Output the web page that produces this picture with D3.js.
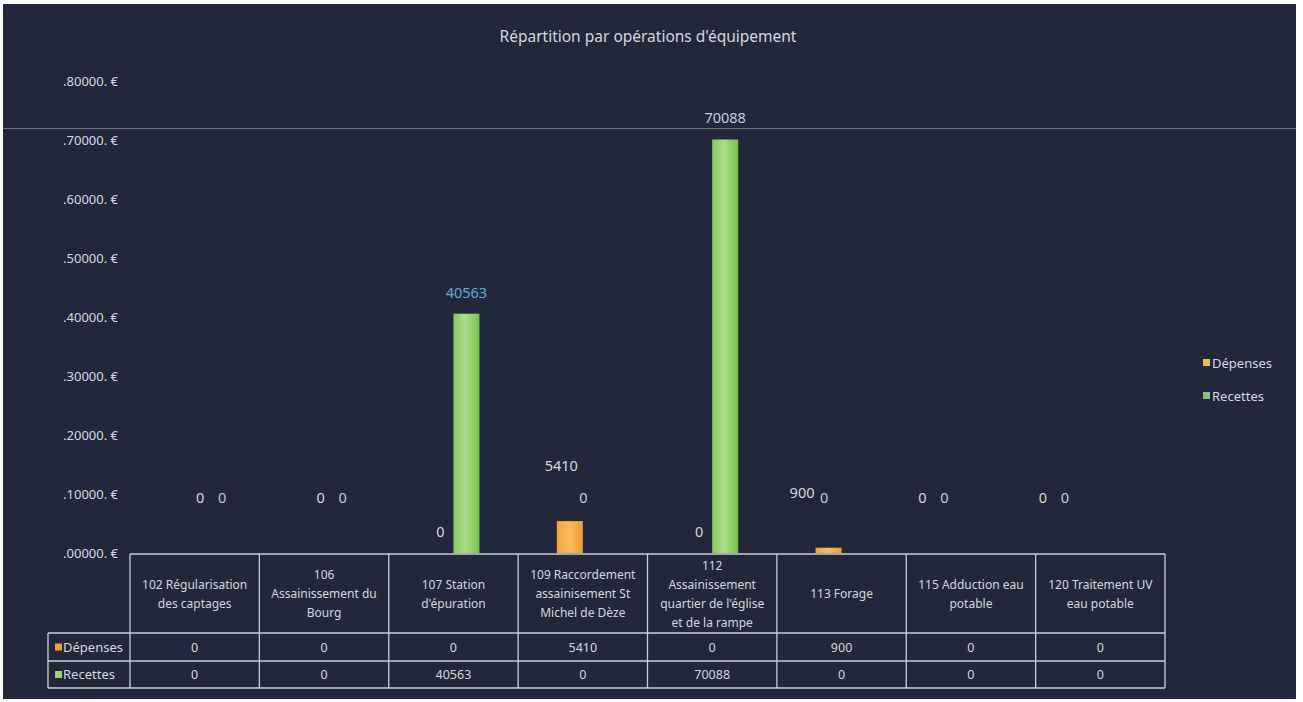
<!DOCTYPE html>
<html>
<head>
<meta charset="utf-8">
<script src="https://cdn.jsdelivr.net/npm/d3@7"></script>
<style>
  html, body { margin: 0; padding: 0; background: #ffffff; }
  svg { display: block; }
  text { font-family: "Noto Sans", "Open Sans", sans-serif; }
</style>
</head>
<body>
<svg id="chart" width="1303" height="702"></svg>
<script>
// ---- data ----
const categories = ["102", "106", "107", "109", "112", "113", "115", "120"];
const categoryLines = [
  ["102 Régularisation", "des captages"],
  ["106", "Assainissement du", "Bourg"],
  ["107 Station", "d'épuration"],
  ["109 Raccordement", "assainisement St", "Michel de Dèze"],
  ["112", "Assainissement", "quartier de l'église", "et de la rampe"],
  ["113 Forage"],
  ["115 Adduction eau", "potable"],
  ["120 Traitement UV", "eau potable"]
];
const seriesNames = ["Dépenses", "Recettes"];
const depenses = [0, 0, 0, 5410, 0, 900, 0, 0];
const recettes = [0, 0, 40563, 0, 70088, 0, 0, 0];
const yTicks = [0, 10000, 20000, 30000, 40000, 50000, 60000, 70000, 80000];
const title = "Répartition par opérations d'équipement";

const seriesValues = { "Dépenses": depenses, "Recettes": recettes };
const seriesColors = { "Dépenses": "#efa238", "Recettes": "#9fd275" };
const legendColors = { "Dépenses": "#e2c24a", "Recettes": "#8fc07a" };
const labelColors = { "Dépenses": "#d9dbd6", "Recettes": "#bfd0d8" };

const svg = d3.select("#chart");
const W = 1303, H = 702;

// background
svg.append("rect").attr("x", 0).attr("y", 0).attr("width", W).attr("height", H).attr("fill", "#ffffff");
svg.append("rect").attr("x", 3).attr("y", 4).attr("width", 1293).attr("height", 695).attr("fill", "#22273c");

// gradients
const defs = svg.append("defs");
const gG = defs.append("linearGradient").attr("id", "gRec").attr("x1", "0").attr("x2", "1").attr("y1", "0").attr("y2", "0");
gG.append("stop").attr("offset", "0").attr("stop-color", "#86c95a");
gG.append("stop").attr("offset", "0.45").attr("stop-color", "#aedb8c");
gG.append("stop").attr("offset", "1").attr("stop-color", "#78c24a");
const gO = defs.append("linearGradient").attr("id", "gDep").attr("x1", "0").attr("x2", "1").attr("y1", "0").attr("y2", "0");
gO.append("stop").attr("offset", "0").attr("stop-color", "#f3a63a");
gO.append("stop").attr("offset", "0.5").attr("stop-color", "#f7bc5c");
gO.append("stop").attr("offset", "1").attr("stop-color", "#ee9a30");
const fills = { "Dépenses": "url(#gDep)", "Recettes": "url(#gRec)" };

// scan line artifact
svg.append("line").attr("x1", 3).attr("x2", 1296).attr("y1", 128.5).attr("y2", 128.5)
  .attr("stroke", "#8a93a0").attr("stroke-width", 1.2).attr("opacity", 0.7);

// scales
const y = d3.scaleLinear().domain([0, 80000]).range([553, 81]);
const x = d3.scaleBand().domain(categories).range([130, 1165]);
const bw = 26;
const x1 = d3.scaleBand().domain(seriesNames).range([x.bandwidth() / 2 - bw, x.bandwidth() / 2 + bw]);
const labelX = d3.scaleBand().domain(categories).range([151, 1114]);

// title
svg.append("text").attr("x", 648).attr("y", 42).attr("text-anchor", "middle")
  .attr("fill", "#d4d8de").attr("font-size", 15.5).text(title);

// y axis
const yAxis = d3.axisLeft(y).tickValues(yTicks).tickSize(0).tickPadding(0)
  .tickFormat(v => "." + d3.format("05d")(v) + ". €");
const gy = svg.append("g").attr("transform", "translate(118,0)").call(yAxis);
gy.select(".domain").remove();
gy.selectAll("text").attr("fill", "#d6dae0").attr("font-size", 13)
  .attr("font-family", "'Noto Sans', sans-serif");

// bars
seriesNames.forEach(s => {
  svg.append("g").selectAll("rect").data(categories).join("rect")
    .attr("x", (c) => x(c) + x1(s))
    .attr("width", x1.bandwidth())
    .attr("y", (c, i) => y(seriesValues[s][i]))
    .attr("height", (c, i) => y(0) - y(seriesValues[s][i]))
    .attr("fill", fills[s]);
});

// data labels
const isTall = i => Math.max(depenses[i], recettes[i]) > 20000;
seriesNames.forEach((s, si) => {
  svg.append("g").selectAll("text").data(categories).join("text")
    .attr("x", (c, i) => isTall(i)
      ? x(c) + x1(s) + x1.bandwidth() / 2
      : labelX(c) + labelX.bandwidth() / 2 + (si === 0 ? -11 : 11))
    .attr("y", (c, i) => y(seriesValues[s][i]) - (isTall(i) ? 21 : 55) + 5)
    .attr("text-anchor", "middle")
    .attr("font-size", 14.5)
    .attr("fill", (c, i) => (s === "Recettes" && seriesValues[s][i] > 0 && seriesValues[s][i] < 50000) ? "#5ab0c8" : labelColors[s])
    .text((c, i) => seriesValues[s][i]);
});

// data table
const tTop = 554, hdrBot = 633, r1Bot = 661, r2Bot = 688;
const tLeft = x.range()[0], tRight = x.range()[1], rowLabLeft = 48;
const lineCol = "#c9d0d8";
const tbl = svg.append("g");
tbl.append("line").attr("x1", tLeft).attr("x2", tRight).attr("y1", tTop).attr("y2", tTop).attr("stroke", lineCol).attr("stroke-width", 1.5);
[hdrBot, r1Bot, r2Bot].forEach(yy => {
  tbl.append("line").attr("x1", rowLabLeft).attr("x2", tRight).attr("y1", yy).attr("y2", yy).attr("stroke", lineCol).attr("stroke-width", 1.5);
});
categories.forEach(c => {
  tbl.append("line").attr("x1", x(c)).attr("x2", x(c)).attr("y1", tTop).attr("y2", r2Bot).attr("stroke", lineCol).attr("stroke-width", 1.3);
});
tbl.append("line").attr("x1", tRight).attr("x2", tRight).attr("y1", tTop).attr("y2", r2Bot).attr("stroke", lineCol).attr("stroke-width", 1.3);
tbl.append("line").attr("x1", rowLabLeft).attr("x2", rowLabLeft).attr("y1", hdrBot).attr("y2", r2Bot).attr("stroke", lineCol).attr("stroke-width", 1.3);

// header text
const hdrMid = (tTop + hdrBot) / 2;
categories.forEach((c, i) => {
  const lines = categoryLines[i];
  const lh = 19;
  const t = tbl.append("text").attr("text-anchor", "middle").attr("font-size", 12).attr("fill", "#d3d8de");
  lines.forEach((ln, k) => {
    t.append("tspan").attr("x", x(c) + x.bandwidth() / 2)
      .attr("y", hdrMid + (k - (lines.length - 1) / 2) * lh + 4.5)
      .text(ln);
  });
});

// value rows
const rowMids = { "Dépenses": (hdrBot + r1Bot) / 2, "Recettes": (r1Bot + r2Bot) / 2 };
seriesNames.forEach(s => {
  tbl.append("g").selectAll("text").data(categories).join("text")
    .attr("x", c => x(c) + x.bandwidth() / 2)
    .attr("y", rowMids[s] + 4.5)
    .attr("text-anchor", "middle").attr("font-size", 12.5).attr("fill", "#d3d8de")
    .text((c, i) => seriesValues[s][i]);
  tbl.append("rect").attr("x", 55).attr("y", rowMids[s] - 3.5).attr("width", 7).attr("height", 7).attr("fill", seriesColors[s]);
  tbl.append("text").attr("x", 63).attr("y", rowMids[s] + 4.5).attr("font-size", 13)
    .attr("fill", "#d3d8de").text(s);
});

// legend
const lg = svg.append("g");
seriesNames.forEach((s, i) => {
  const ly = 363 + i * 33;
  lg.append("rect").attr("x", 1203).attr("y", ly - 4).attr("width", 7).attr("height", 7).attr("fill", legendColors[s]);
  lg.append("text").attr("x", 1212).attr("y", ly + 4.5).attr("font-size", 13).attr("fill", "#d6dae0").text(s);
});
</script>
</body>
</html>
